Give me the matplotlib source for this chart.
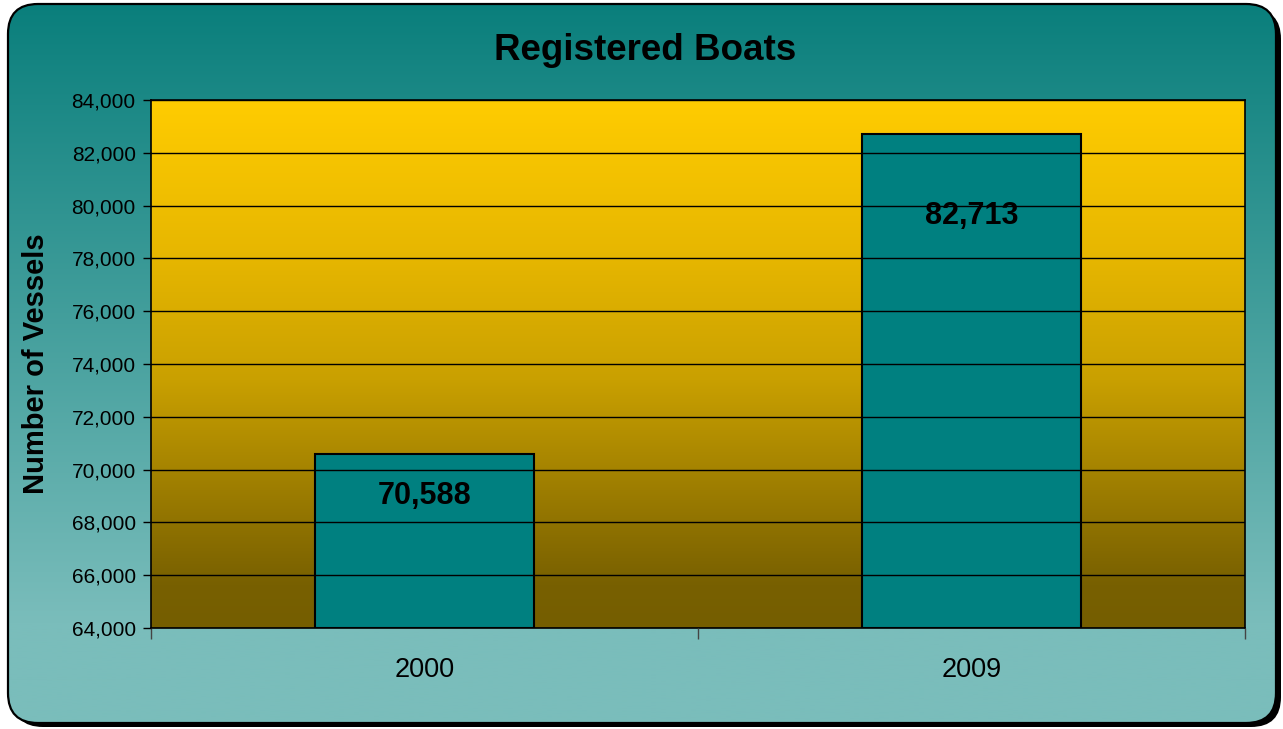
import numpy as np
import matplotlib.pyplot as plt
from matplotlib.patches import FancyBboxPatch
from matplotlib.colors import LinearSegmentedColormap
from matplotlib.ticker import FuncFormatter, FixedLocator

plt.rcParams['font.family'] = ['Liberation Sans', 'DejaVu Sans']

# data
years = ['2000', '2009']
vessels = [70588, 82713]
y_ticks = list(range(64000, 84001, 2000))

W, H = 1283, 729
fig = plt.figure(figsize=(W / 100, H / 100), dpi=100)
fig.patch.set_facecolor('white')

# rounded teal panel behind the chart
bg = fig.add_axes([0, 0, 1, 1])
bg.set_xlim(0, W)
bg.set_ylim(H, 0)
bg.axis('off')

shadow = FancyBboxPatch((13, 9), 1268, 718, boxstyle='round,pad=0,rounding_size=30',
                        facecolor='black', edgecolor='none')
bg.add_patch(shadow)
panel = FancyBboxPatch((8, 4), 1268, 719, boxstyle='round,pad=0,rounding_size=30',
                       facecolor='none', edgecolor='black', linewidth=1.6, zorder=3)
bg.add_patch(panel)

teal = LinearSegmentedColormap.from_list('teal', [(0, '#0a7f7c'), (0.86, '#7abdbb'), (1, '#7abdbb')])
grad = np.linspace(0, 1, 256).reshape(-1, 1)
img = bg.imshow(grad, cmap=teal, extent=[8, 1276, 723, 4], aspect='auto', zorder=2)
img.set_clip_path(panel)

# plot area
ax = fig.add_axes([151 / W, 1 - 628 / H, 1094 / W, 528 / H])
ax.set_xlim(-0.5, 1.5)
ax.set_ylim(64000, 84000)

gold = LinearSegmentedColormap.from_list('gold', [
    (0, '#ffcc00'), (0.30, '#e6b600'), (0.53, '#c9a000'),
    (0.83, '#8a6e00'), (0.92, '#786000'), (1, '#755e00')])
ax.imshow(grad, cmap=gold, extent=[-0.5, 1.5, 64000, 84000], aspect='auto', zorder=0,
          origin='upper')

ax.yaxis.set_major_locator(FixedLocator(y_ticks))
ax.yaxis.set_major_formatter(FuncFormatter(lambda v, p: f'{int(v):,}'))
ax.grid(axis='y', color='black', linewidth=1.0, zorder=1)
ax.set_axisbelow(False)

x = np.arange(len(years))
bars = ax.bar(x, [v - 64000 for v in vessels], bottom=64000, width=0.4,
              color='#008080', edgecolor='black', linewidth=1.5, zorder=2)

# value labels sit inside the bars, below the top edge
label_drop = [-30, -59]
for xi, v, dy in zip(x, vessels, label_drop):
    ax.annotate(f'{v:,}', (xi, v), xytext=(0, dy), textcoords='offset points',
                ha='center', va='center', fontsize=22, fontweight='bold', zorder=3)

# category ticks between the groups, labels centred on the bars
ax.set_xticks([-0.5, 0.5, 1.5])
ax.set_xticklabels([])
ax.set_xticks(x, minor=True)
ax.set_xticklabels(years, minor=True, fontsize=19.5)
ax.tick_params(axis='x', which='major', length=8, width=1, color='#444444', direction='out')
ax.tick_params(axis='x', which='minor', length=0, pad=21)
ax.tick_params(axis='y', length=6, width=1, direction='out', labelsize=15, pad=5)

for s in ax.spines.values():
    s.set_color('black')
    s.set_linewidth(1.2)

ax.set_ylabel('Number of Vessels', fontsize=21, fontweight='bold')
ax.yaxis.set_label_coords(-0.092, 0.5)

fig.text(645 / W, 1 - 50 / H, 'Registered Boats', ha='center', va='center',
         fontsize=26.5, fontweight='bold')

fig.savefig('out.png', dpi=100)
